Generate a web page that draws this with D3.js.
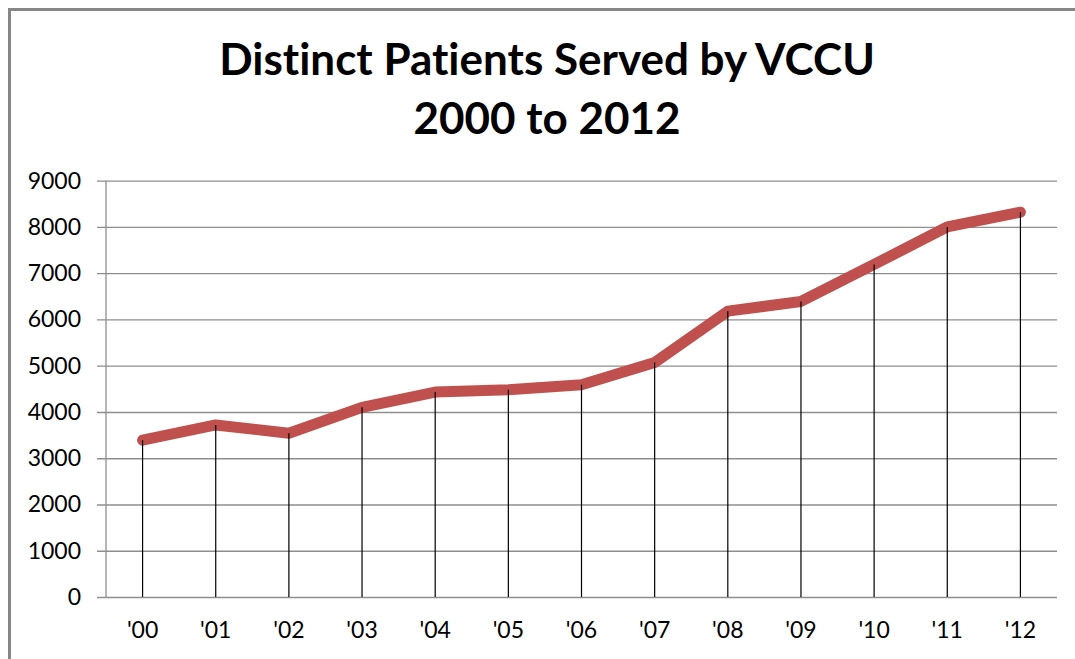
<!DOCTYPE html>
<html>
<head>
<meta charset="utf-8">
<script src="https://cdn.jsdelivr.net/npm/d3@7"></script>
<style>
  body { margin: 0; background: #fff; }
  svg { display: block; }
  text { font-variant-ligatures: none; font-feature-settings: "liga" 0; }
</style>
</head>
<body>
<div id="chart"></div>
<script>
var years = ["'00", "'01", "'02", "'03", "'04", "'05", "'06", "'07", "'08", "'09", "'10", "'11", "'12"];
var patients = [3390, 3720, 3540, 4100, 4430, 4480, 4590, 5070, 6180, 6390, 7190, 8000, 8320];
var yTicks = [0, 1000, 2000, 3000, 4000, 5000, 6000, 7000, 8000, 9000];
var titleLines = ["Distinct Patients Served by VCCU", "2000 to 2012"];

var config = {
  width: 1075,
  height: 659,
  margin: { left: 106, right: 18, top: 180.7, bottom: 62 }
};

var svg = d3.select("#chart").append("svg")
    .attr("width", config.width)
    .attr("height", config.height);

// outer chart border (runs off the right and bottom edge)
svg.append("rect")
    .attr("x", 9.5)
    .attr("y", 9.5)
    .attr("width", 1100)
    .attr("height", 700)
    .attr("fill", "#fff")
    .attr("stroke", "#868686")
    .attr("stroke-width", 3);

svg.selectAll("text.title").data(titleLines).enter()
  .append("text")
    .attr("class", "title")
    .attr("x", 547)
    .attr("y", function(d, i) { return 75 + i * 59; })
    .attr("text-anchor", "middle")
    .attr("font-family", "Lato, 'Open Sans', sans-serif")
    .attr("font-weight", "bold")
    .attr("font-size", "44px")
    .attr("fill", "#000")
    .text(function(d) { return d; });

var x = d3.scaleBand()
    .domain(years)
    .range([config.margin.left, config.width - config.margin.right])
    .padding(0);

var y = d3.scaleLinear()
    .domain([0, 9000])
    .range([config.height - config.margin.bottom, config.margin.top]);

var gridColor = "#8e8e8e";

// y axis with gridlines
var yAxis = svg.append("g")
    .attr("transform", "translate(" + config.margin.left + ",0)")
    .call(d3.axisLeft(y)
        .tickValues(yTicks)
        .tickFormat(d3.format("d"))
        .tickSizeInner(-(x.range()[1] - x.range()[0]))
        .tickSizeOuter(0)
        .tickPadding(25));

yAxis.select(".domain").remove();
yAxis.selectAll(".tick line")
    .attr("x1", -9)
    .attr("stroke", gridColor)
    .attr("stroke-width", 1.3);
yAxis.selectAll(".tick text")
    .attr("font-family", "Lato, 'Liberation Sans', sans-serif")
    .attr("font-size", "23px")
    .attr("fill", "#000");

svg.append("line")
    .attr("x1", config.margin.left)
    .attr("x2", config.margin.left)
    .attr("y1", y(9000))
    .attr("y2", y(0))
    .attr("stroke", gridColor)
    .attr("stroke-width", 1.3);

// x axis labels
var xAxis = svg.append("g")
    .attr("transform", "translate(0," + y(0) + ")")
    .call(d3.axisBottom(x).tickSize(0).tickPadding(25));

xAxis.select(".domain").remove();
xAxis.selectAll(".tick text")
    .attr("font-family", "Lato, 'Liberation Sans', sans-serif")
    .attr("font-size", "23px")
    .attr("fill", "#000");

var cx = function(d, i) { return x(years[i]) + x.bandwidth() / 2; };

var line = d3.line()
    .x(cx)
    .y(function(d) { return y(d); });

svg.append("path")
    .datum(patients)
    .attr("d", line)
    .attr("fill", "none")
    .attr("stroke", "#c0504d")
    .attr("stroke-width", 11)
    .attr("stroke-linejoin", "round")
    .attr("stroke-linecap", "round");

// drop lines from each point to the axis
svg.selectAll("line.drop").data(patients).enter()
  .append("line")
    .attr("class", "drop")
    .attr("x1", cx)
    .attr("x2", cx)
    .attr("y1", function(d) { return y(d); })
    .attr("y2", y(0))
    .attr("stroke", "#000")
    .attr("stroke-width", 1.2);
</script>
</body>
</html>
